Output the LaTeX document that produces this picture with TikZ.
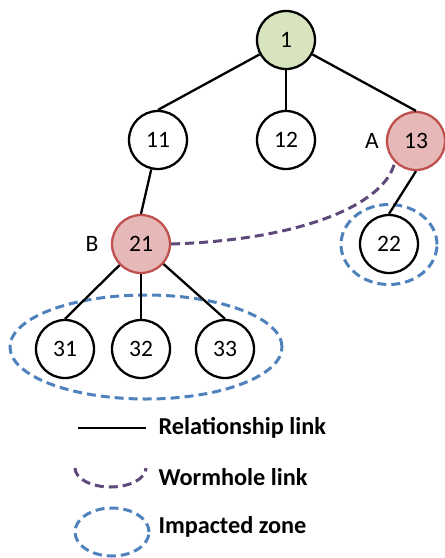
\documentclass[tikz,border=0pt]{standalone}
\usepackage{fontspec}
\setmainfont{Carlito}
\usepackage{xcolor}
\definecolor{leafgreen}{HTML}{D7E4BD}
\definecolor{hitred}{HTML}{E6B9B8}
\definecolor{hitedge}{HTML}{C0504D}
\definecolor{wormpurple}{HTML}{5F497A}
\definecolor{zoneblue}{HTML}{4F81BD}

\begin{document}
\begin{tikzpicture}[x=1pt, y=-1pt,
  every node/.style={font=\fontsize{23.5}{27}\selectfont},
  vertex/.style={circle, draw=black, line width=2.3pt, minimum size=58pt, inner sep=0pt, fill=white},
  rootvertex/.style={vertex, fill=leafgreen},
  hitvertex/.style={vertex, fill=hitred, draw=hitedge},
  rellink/.style={line width=2.3pt, black},
  wormlink/.style={line width=3pt, wormpurple, dash pattern=on 9pt off 5pt},
  zone/.style={line width=3pt, zoneblue, dash pattern=on 9pt off 5pt},
  legtext/.style={anchor=west, font=\fontsize{24.3}{28}\selectfont\bfseries}]

  \useasboundingbox (0,0) rectangle (445,558);

  % Impacted zones
  \draw[zone] (146,347) ellipse (136pt and 52pt);
  \draw[zone] (389,244.5) ellipse (48pt and 40pt);

  % Nodes
  \node[rootvertex] (n1) at (286,40) {1};
  \node[vertex] (n11) at (158,140) {11};
  \node[vertex] (n12) at (286,140) {12};
  \node[hitvertex] (n13) at (416,141) {13};
  \node[hitvertex] (n21) at (141,244) {21};
  \node[vertex] (n22) at (389,244) {22};
  \node[vertex] (n31) at (65,349) {31};
  \node[vertex] (n32) at (141,349) {32};
  \node[vertex] (n33) at (225,349) {33};

  % Labels
  \node (lblA) at (372,141) {A};
  \node (lblB) at (92,244) {B};

  % Relationship links
  \draw[rellink] (n1) -- (n11.north);
  \draw[rellink] (n1) -- (n12.north);
  \draw[rellink] (n1) -- (n13.north);
  \draw[rellink] (n11) -- (n21.north);
  \draw[rellink] (n13.south) -- (n22.north);
  \draw[rellink] (n21) -- (n31.north);
  \draw[rellink] (n21) -- (n32.north);
  \draw[rellink] (n21) -- (n33.north);

  % Wormhole link
  \draw[wormlink] (n21.east) .. controls (300,240) and (385,205) .. (n13.south west);

  % Legend
  \draw[rellink] (78,428) -- (146,428);
  \node[legtext] (legRel) at (155,428) {Relationship link};
  \draw[wormlink] (75,468) arc[start angle=180, end angle=360, x radius=35.5pt, y radius=19pt];
  \node[legtext] (legWorm) at (155,477) {Wormhole link};
  \draw[zone] (112,532) ellipse (37pt and 24pt);
  \node[legtext] (legZone) at (155,527) {Impacted zone};

\end{tikzpicture}
\end{document}
